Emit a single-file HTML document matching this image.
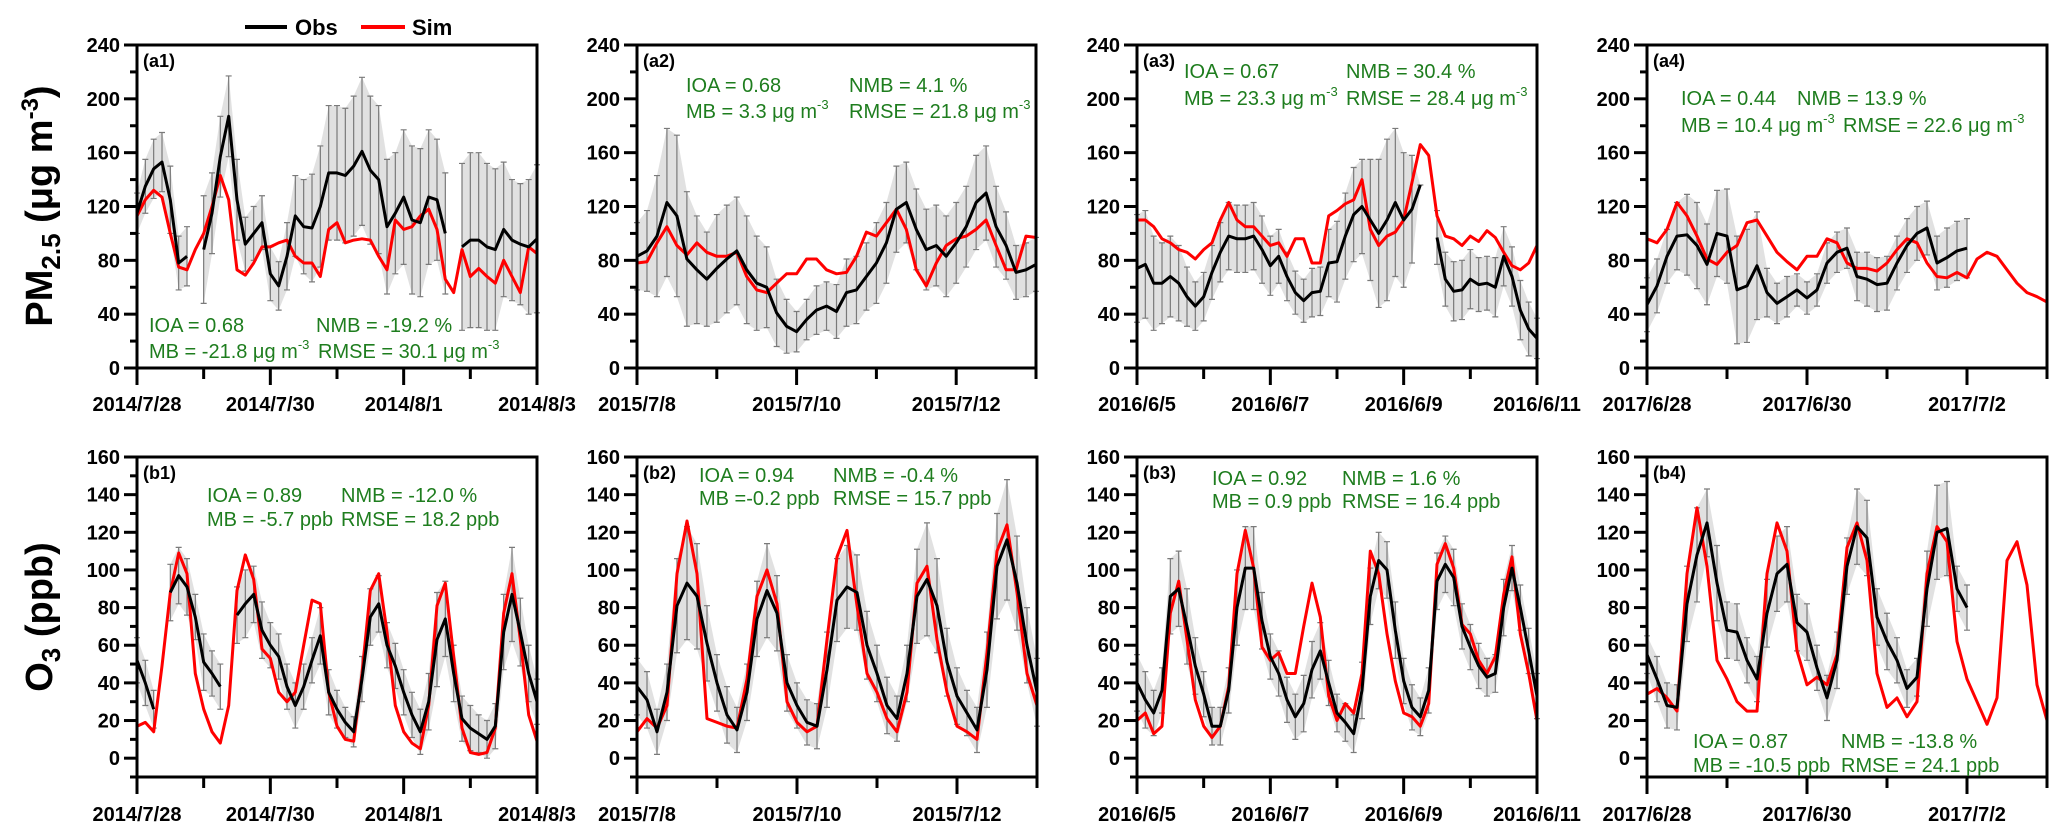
<!DOCTYPE html>
<html><head><meta charset="utf-8"><style>
body{margin:0;background:#fff;}
svg{display:block;font-family:"Liberation Sans",Arial,sans-serif;}
</style></head><body>
<svg id="chart" width="2067" height="839" viewBox="0 0 2067 839" xmlns="http://www.w3.org/2000/svg">
<g>
<line x1="245" y1="27" x2="287" y2="27" stroke="#000" stroke-width="4"/>
<text x="295" y="35" font-size="22" font-weight="bold">Obs</text>
<line x1="361" y1="27" x2="405" y2="27" stroke="#f00" stroke-width="4"/>
<text x="412" y="35" font-size="22" font-weight="bold">Sim</text>
</g>
<text transform="translate(52,206) rotate(-90)" text-anchor="middle" font-size="38" font-weight="bold">PM<tspan font-size="26" dy="8">2.5</tspan><tspan dy="-8"> (μg m</tspan><tspan font-size="24" dy="-14">-3</tspan><tspan dy="14">)</tspan></text>
<text transform="translate(52,617) rotate(-90)" text-anchor="middle" font-size="38" font-weight="bold">O<tspan font-size="26" dy="8">3</tspan><tspan dy="-8"> (ppb)</tspan></text>
<g id="panels"></g>
</svg>
<script>
// ---- data (3-hourly estimates) ----
const a1Dates=["2014/7/28","","2014/7/30","","2014/8/1","","2014/8/3"];
const a1Obs=[115,135,148,153,125,78,83,null,88,115,157,187,125,92,100,108,70,61,83,113,105,104,120,145,145,143,150,161,147,140,105,115,127,110,108,127,125,100,null,90,95,95,90,88,103,95,92,90,96];
const a1Sd=[15,20,22,22,25,20,22,25,40,30,30,30,30,20,20,20,20,18,25,30,35,40,45,50,50,50,52,55,55,55,50,45,50,55,55,50,45,45,60,62,65,65,62,60,50,45,45,50,55];
const a1Sim=[113,125,132,127,100,75,73,88,100,120,143,125,73,69,78,90,90,93,95,83,78,78,68,103,108,93,95,96,95,83,73,110,103,105,113,118,103,66,56,88,68,74,68,63,80,68,56,90,85];

const a2Dates=["2015/7/8","","2015/7/10","","2015/7/12",""];
const a2Obs=[83,87,98,123,113,81,73,66,74,81,87,73,63,60,41,31,27,36,43,46,42,56,58,68,78,93,118,123,103,88,91,83,93,105,123,130,105,91,71,73,77];
const a2Sd=[25,30,45,55,60,50,40,35,40,40,40,40,35,30,25,20,15,15,18,18,20,25,25,25,30,30,32,30,30,30,30,30,30,30,35,35,30,25,20,20,20];
const a2Sim=[78,79,93,105,91,84,93,86,83,83,86,68,58,56,63,70,70,81,81,73,70,71,83,101,98,108,118,103,73,61,78,91,96,98,103,110,91,73,73,98,97];

const a3Dates=["2016/6/5","","2016/6/7","","2016/6/9","","2016/6/11"];
const a3Obs=[74,77,63,63,68,63,53,46,53,71,86,98,96,96,98,88,76,83,68,56,50,56,57,78,79,98,114,120,110,100,110,123,110,118,136,null,97,66,57,58,66,62,63,60,83,68,43,29,22];
const a3Sd=[40,40,35,30,30,28,22,18,18,20,22,25,25,25,25,25,22,20,18,16,16,18,18,25,30,32,35,35,45,55,60,55,50,40,0,0,20,20,22,22,22,20,20,22,22,22,22,20,15];
const a3Sim=[110,110,105,96,93,88,86,81,88,93,110,123,110,105,105,98,91,93,83,96,96,78,78,113,117,122,125,140,103,91,98,101,110,138,166,158,113,98,96,91,98,94,102,97,86,76,73,78,91];

const a4Dates=["2017/6/28","","2017/6/30","","2017/7/2",""];
const a4Obs=[47,61,83,98,99,91,77,100,98,58,61,76,56,48,53,58,52,58,78,86,89,68,66,62,63,78,91,100,104,78,82,87,89,null,null,null,null,null,null,null,null];
const a4Sd=[20,20,20,25,30,32,30,32,35,40,42,40,18,15,15,12,12,12,15,15,15,18,20,20,20,20,20,20,20,20,22,22,22,0,0,0,0,0,0,0,0];
const a4Sim=[96,93,103,123,113,98,81,77,86,91,108,110,98,86,79,73,83,83,96,93,78,74,74,72,78,88,96,93,78,68,67,71,67,81,86,83,73,63,56,53,49];

const b1Dates=a1Dates;
const b1Obs=[52,40,26,null,88,97,91,75,51,45,38,null,76,82,87,68,60,54,38,28,38,52,65,35,26,19,14,42,75,82,60,49,35,23,14,30,63,74,45,21,16,13,10,17,67,87,67,45,30];
const b1Sd=[12,12,10,0,15,15,15,12,15,12,12,0,15,18,15,15,12,12,12,12,12,12,15,12,10,8,8,12,15,15,12,12,12,12,12,15,25,20,15,12,12,10,10,12,20,25,18,15,12];
const b1Sim=[17,19,14,49,88,109,98,45,26,14,8,28,89,108,95,58,53,35,30,35,60,84,82,35,17,10,9,45,89,98,67,28,14,8,5,28,81,93,54,16,3,2,3,16,77,98,63,23,9];

const b2Dates=a2Dates;
const b2Obs=[38,31,14,35,81,93,86,61,40,23,15,35,74,89,77,40,28,19,17,47,84,91,88,60,45,28,21,45,86,95,81,51,33,24,15,47,102,116,93,60,35];
const b2Sd=[15,15,12,15,25,30,28,20,15,15,12,15,20,25,20,15,12,12,12,20,22,22,20,18,15,15,12,15,25,30,25,18,15,12,12,20,28,32,25,20,18];
const b2Sim=[14,21,16,28,98,126,98,21,19,17,16,42,86,100,82,30,19,14,17,63,107,121,81,45,35,21,14,35,93,102,63,35,17,14,10,56,110,124,88,45,28];

const b3Dates=a3Dates;
const b3Obs=[40,31,24,36,86,90,70,49,34,17,17,36,80,101,101,73,54,45,31,22,29,47,57,40,24,19,13,36,86,105,100,68,41,27,22,36,94,103,96,70,59,49,43,45,80,101,80,57,33];
const b3Sd=[15,15,12,12,20,20,20,15,12,10,10,12,20,22,22,15,12,12,12,12,15,15,15,12,10,10,10,15,15,15,15,15,12,12,10,12,15,15,15,12,12,12,10,10,15,12,12,12,12];
const b3Sim=[20,24,13,17,77,94,63,31,17,11,17,38,98,121,101,59,52,56,45,45,70,93,75,33,20,29,24,45,110,98,66,41,24,22,17,29,103,114,101,71,66,52,45,54,87,107,66,45,20];

const b4Dates=a4Dates;
const b4Obs=[55,42,28,27,82,108,125,93,68,67,52,42,77,98,103,72,67,48,32,52,102,123,117,75,62,52,37,43,90,120,122,90,80,null,null,null,null,null,null,null,null];
const b4Sd=[10,12,12,12,20,25,18,20,15,15,12,12,18,20,20,15,15,12,12,15,15,20,20,15,15,12,10,10,20,25,25,12,12,0,0,0,0,0,0,0,0];
const b4Sim=[34,37,32,25,98,133,102,52,42,30,25,25,98,125,110,57,39,43,39,55,112,125,105,45,27,32,22,30,98,123,115,62,42,30,18,32,105,115,92,39,20];

// ---- layout ----
const NS="http://www.w3.org/2000/svg";
const root=document.getElementById('panels');
function mk(tag,attrs,parent){const e=document.createElementNS(NS,tag);for(const k in attrs)e.setAttribute(k,attrs[k]);(parent||root).appendChild(e);return e;}

const panels=[
 {id:'a1',row:0,x0:137,x1:537,dates:a1Dates,obs:a1Obs,sd:a1Sd,sim:a1Sim,stats:[[149,332,"IOA = 0.68"],[316,332,"NMB = -19.2 %"],[149,358,"MB = -21.8 μg m","-3"],[318,358,"RMSE = 30.1 μg m","-3"]]},
 {id:'a2',row:0,x0:637,x1:1036,dates:a2Dates,obs:a2Obs,sd:a2Sd,sim:a2Sim,stats:[[686,92,"IOA = 0.68"],[849,92,"NMB = 4.1 %"],[686,118,"MB =  3.3 μg m","-3"],[849,118,"RMSE = 21.8 μg m","-3"]]},
 {id:'a3',row:0,x0:1137,x1:1537,dates:a3Dates,obs:a3Obs,sd:a3Sd,sim:a3Sim,stats:[[1184,78,"IOA = 0.67"],[1346,78,"NMB = 30.4 %"],[1184,105,"MB = 23.3 μg m","-3"],[1346,105,"RMSE = 28.4 μg m","-3"]]},
 {id:'a4',row:0,x0:1647,x1:2047,dates:a4Dates,obs:a4Obs,sd:a4Sd,sim:a4Sim,stats:[[1681,105,"IOA = 0.44"],[1797,105,"NMB = 13.9 %"],[1681,132,"MB = 10.4 μg m","-3"],[1843,132,"RMSE = 22.6 μg m","-3"]]},
 {id:'b1',row:1,x0:137,x1:537,dates:b1Dates,obs:b1Obs,sd:b1Sd,sim:b1Sim,stats:[[207,502,"IOA = 0.89"],[341,502,"NMB = -12.0 %"],[207,526,"MB = -5.7 ppb"],[341,526,"RMSE = 18.2 ppb"]]},
 {id:'b2',row:1,x0:637,x1:1037,dates:b2Dates,obs:b2Obs,sd:b2Sd,sim:b2Sim,stats:[[699,482,"IOA = 0.94"],[833,482,"NMB = -0.4 %"],[699,505,"MB =-0.2 ppb"],[833,505,"RMSE = 15.7 ppb"]]},
 {id:'b3',row:1,x0:1137,x1:1537,dates:b3Dates,obs:b3Obs,sd:b3Sd,sim:b3Sim,stats:[[1212,485,"IOA = 0.92"],[1342,485,"NMB = 1.6 %"],[1212,508,"MB = 0.9 ppb"],[1342,508,"RMSE = 16.4 ppb"]]},
 {id:'b4',row:1,x0:1647,x1:2047,dates:b4Dates,obs:b4Obs,sd:b4Sd,sim:b4Sim,stats:[[1693,748,"IOA = 0.87"],[1841,748,"NMB = -13.8 %"],[1693,772,"MB = -10.5 ppb"],[1841,772,"RMSE = 24.1 ppb"]]}
];
const rows=[
 {yTop:45,yBot:368,vMin:0,vMax:240,major:40,minor:20,labY:411},
 {yTop:457,yBot:777,vMin:-10,vMax:160,major:20,minor:10,labY:821}
];

panels.forEach(p=>{
 const r=rows[p.row];
 const g=mk('g',{});
 
 
 const nDays=p.dates.length-1;
 const nPts=p.sim.length;
 const xs=i=>p.x0+(p.x1-p.x0)*i/(nPts-1);
 const xd=d=>p.x0+(p.x1-p.x0)*d/nDays;
 const ys=v=>r.yBot-(v-r.vMin)/(r.vMax-r.vMin)*(r.yBot-r.yTop);
 const hi=i=>ys(Math.min(p.obs[i]+p.sd[i],r.vMax));
 const lo=i=>ys(Math.max(p.obs[i]-p.sd[i],r.vMin));
 // spread band (obs ± sd), drawn per contiguous segment
 let seg=[];
 const segs=[];
 p.obs.forEach((v,i)=>{if(v===null){if(seg.length)segs.push(seg);seg=[];}else seg.push(i);});
 if(seg.length)segs.push(seg);
 segs.forEach(s=>{
  if(s.length<2)return;
  let d='M'+s.map(i=>xs(i).toFixed(1)+','+hi(i).toFixed(1)).join('L');
  d+='L'+s.slice().reverse().map(i=>xs(i).toFixed(1)+','+lo(i).toFixed(1)).join('L')+'Z';
  const band=mk('path',{d:d,fill:'#bdbdbd','fill-opacity':0.45,stroke:'none'},g);
  
  
 });
 // error bars
 const eg=mk('g',{stroke:'#7a7a7a','stroke-width':1.2},g);
 
 
 p.obs.forEach((v,i)=>{
  if(v===null)return;
  const x=xs(i),t=hi(i),b=lo(i);
  const e=mk('path',{d:`M${x},${t}V${b}M${x-3},${t}H${x+3}M${x-3},${b}H${x+3}`,fill:'none'},eg);
  
  
 });
 // lines
 function linePath(arr){let d='',pen=false;arr.forEach((v,i)=>{if(v===null){pen=false;return;}d+=(pen?'L':'M')+xs(i).toFixed(1)+','+ys(v).toFixed(1);pen=true;});return d;}
 const sl=mk('path',{d:linePath(p.sim),fill:'none',stroke:'#f00','stroke-width':3,'stroke-linejoin':'round'},g);
 
 
 const ol=mk('path',{d:linePath(p.obs),fill:'none',stroke:'#000','stroke-width':3,'stroke-linejoin':'round'},g);
 
 
 // frame
 const fr=mk('rect',{x:p.x0,y:r.yTop,width:p.x1-p.x0,height:r.yBot-r.yTop,fill:'none',stroke:'#000','stroke-width':3},g);
 
 
 // y ticks
 for(let v=r.vMin;v<=r.vMax+0.001;v+=r.minor){
  const y=ys(v),isMaj=(v%r.major===0)&&v>=0;
  const tk=mk('line',{x1:p.x0-(isMaj?13:7),x2:p.x0,y1:y,y2:y,stroke:'#000','stroke-width':3},g);
  
  
  if(isMaj){
   const tl=mk('text',{x:p.x0-17,y:y+7,'text-anchor':'end','font-size':20,'font-weight':'bold'},g);
   tl.textContent=v;
   
   
  }
 }
 // x ticks
 p.dates.forEach((lab,d)=>{
  const x=xd(d);
  const tk=mk('line',{x1:x,x2:x,y1:r.yBot,y2:r.yBot+(lab?17:11),stroke:'#000','stroke-width':3},g);
  
  
  if(lab){
   const tl=mk('text',{x:x,y:r.labY,'text-anchor':'middle','font-size':20,'font-weight':'bold'},g);
   tl.textContent=lab;
   
   
  }
 });
 // panel label
 const pl=mk('text',{x:p.x0+6,y:r.yTop+22,'font-size':18,'font-weight':'bold'},g);
 pl.textContent='('+p.id+')';
 
 
 // stats
 p.stats.forEach(s=>{
  const t=mk('text',{x:s[0],y:s[1],'font-size':20,fill:'#1e7d1e'},g);
  
  
  t.appendChild(document.createTextNode(s[2]));
  if(s[3]){const sp=mk('tspan',{'font-size':13,dy:-9},t);sp.textContent=s[3];}
 });
});
</script>
</body></html>
